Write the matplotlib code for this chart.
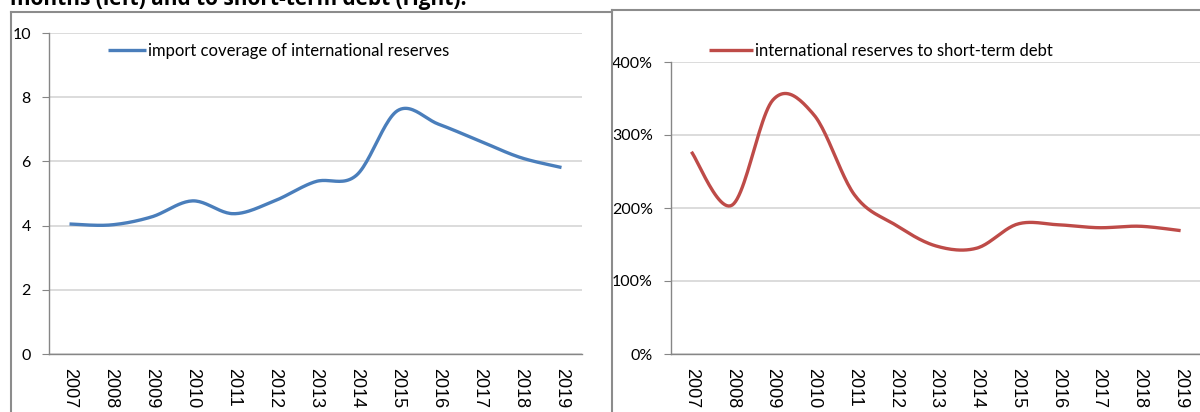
import numpy as np
import matplotlib
matplotlib.use('Agg')
import matplotlib.pyplot as plt
from matplotlib.lines import Line2D

years = ['2007', '2008', '2009', '2010', '2011', '2012', '2013',
         '2014', '2015', '2016', '2017', '2018', '2019']
import_coverage = [4.05, 4.02, 4.27, 4.77, 4.37, 4.77, 5.37,
                   5.57, 7.58, 7.16, 6.64, 6.12, 5.81]
reserves_to_debt = [277, 204, 348, 328, 218, 177, 148,
                    145, 178, 177, 173, 175, 169]

blue = '#4a7ebb'
red = '#be4b48'
grid_col = '#d9d9d9'
axis_col = '#868686'


def smooth(vals, n=25):
    # Excel style smoothed line (bezier through the points)
    pts = np.column_stack([np.arange(len(vals)), vals]).astype(float)
    out = []
    for i in range(len(pts) - 1):
        p0 = pts[max(i - 1, 0)]
        p1 = pts[i]
        p2 = pts[i + 1]
        p3 = pts[min(i + 2, len(pts) - 1)]
        c1 = p1 + (p2 - p0) / 6
        c2 = p2 - (p3 - p1) / 6
        t = np.linspace(0, 1, n)[:, None]
        seg = (1 - t)**3 * p1 + 3 * (1 - t)**2 * t * c1 + 3 * (1 - t) * t**2 * c2 + t**3 * p2
        out.append(seg if i == 0 else seg[1:])
    return np.vstack(out)


def style_axes(ax):
    for s in ['top', 'right']:
        ax.spines[s].set_visible(False)
    for s in ['left', 'bottom']:
        ax.spines[s].set_color(axis_col)
        ax.spines[s].set_linewidth(1)
    ax.grid(axis='y', color=grid_col, linewidth=1.3)
    ax.set_axisbelow(True)
    ax.tick_params(axis='y', length=5, color=axis_col, pad=8)
    ax.tick_params(axis='x', length=0, pad=10)
    ax.set_xlim(-0.5, len(years) - 0.5)
    ax.set_xticks(range(len(years)))
    ax.set_xticklabels(years, rotation=-90, family='Liberation Sans', fontsize=13)
    for lab in ax.get_yticklabels():
        lab.set_family('Lato')
        lab.set_fontsize(11.5)


fig = plt.figure(figsize=(12, 4.12), dpi=100)

# frames of the two chart boxes
fig.add_artist(Line2D([11/1200, 11/1200], [0, 1 - 12/412], color='#8c8c8c', lw=1.5))
fig.add_artist(Line2D([11/1200, 612/1200], [1 - 12/412, 1 - 12/412], color='#8c8c8c', lw=1.5))
fig.add_artist(Line2D([612/1200, 612/1200], [0, 1 - 10/412], color='#8c8c8c', lw=1.5))
fig.add_artist(Line2D([612/1200, 1], [1 - 10/412, 1 - 10/412], color='#8c8c8c', lw=1.5))

fig.text(0.008, 1 - 5/412, 'months (left) and to short-term debt (right).',
         fontsize=15, fontweight='bold', family='Open Sans', va='baseline')

# left chart
ax1 = fig.add_axes([49/1200, 58/412, 533/1200, 321/412])
c = smooth(import_coverage)
ax1.plot(c[:, 0], c[:, 1], color=blue, lw=2.4, solid_capstyle='butt',
         label='import coverage of international reserves')
ax1.set_ylim(0, 10)
ax1.set_yticks([0, 2, 4, 6, 8, 10])
style_axes(ax1)
ax1.legend(loc='center left', bbox_to_anchor=(0.111, 0.944), frameon=False,
           borderpad=0, borderaxespad=0, handlelength=2.3, handletextpad=0.12,
           prop={'family': 'Lato', 'size': 12})

# right chart
ax2 = fig.add_axes([671/1200, 58/412, 530/1200, 292/412])
c = smooth(reserves_to_debt)
ax2.plot(c[:, 0], c[:, 1], color=red, lw=2.4, solid_capstyle='butt',
         label='international reserves to short-term debt')
ax2.set_ylim(0, 400)
ax2.set_yticks([0, 100, 200, 300, 400])
ax2.set_yticklabels(['0%', '100%', '200%', '300%', '400%'])
style_axes(ax2)
ax2.legend(loc='center left', bbox_to_anchor=(0.0717, 1.0377), frameon=False,
           borderpad=0, borderaxespad=0, handlelength=2.65, handletextpad=0.12,
           prop={'family': 'Lato', 'size': 12})

fig.savefig('out.png', dpi=100, facecolor='white')
